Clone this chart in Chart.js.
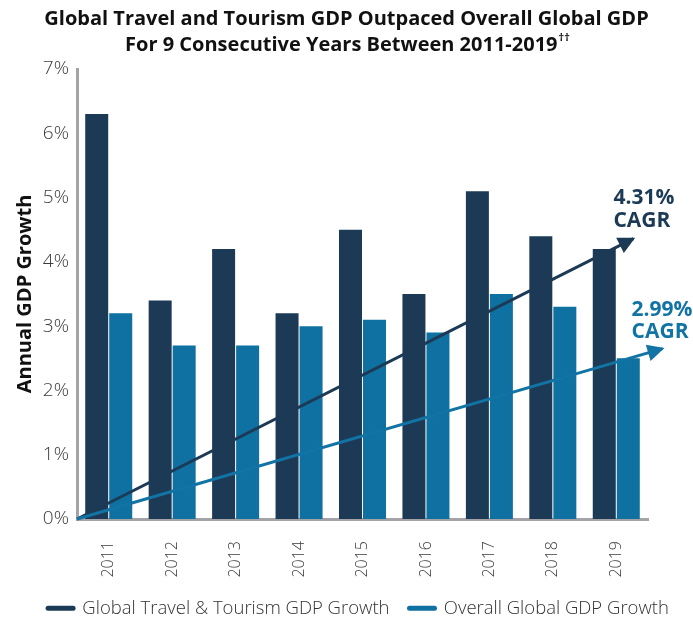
<!DOCTYPE html>
<html>
<head>
<meta charset="utf-8">
<script src="https://cdn.jsdelivr.net/npm/chart.js@4.4.1/dist/chart.umd.min.js"></script>
<style>
  html, body { margin: 0; padding: 0; background: #fff; }
  #wrap { width: 693px; height: 620px; }
</style>
</head>
<body>
<div id="wrap"><canvas id="gdp"></canvas></div>
<script>
const years = ['2011', '2012', '2013', '2014', '2015', '2016', '2017', '2018', '2019'];
const travelGrowth = [6.3, 3.4, 4.2, 3.2, 4.5, 3.5, 5.1, 4.4, 4.2];
const globalGrowth = [3.2, 2.7, 2.7, 3.0, 3.1, 2.9, 3.5, 3.3, 2.5];
const yTicks = [0, 1, 2, 3, 4, 5, 6, 7];
// CAGR trend arrows, x in category units (-0.5 is the left edge of the axis)
const travelTrend = [{x: -0.5, y: 0}, {x: 8.27, y: 4.36}];
const globalTrend = [{x: -0.5, y: 0}, {x: 8.73, y: 2.65}];
const cagrLabels = ['4.31%', '2.99%'];

const DARK = '#1c3a55';
const LIGHT = '#0f71a2';
const FONT = '"Open Sans", "Noto Sans", sans-serif';

const titleLines = [
    'Global Travel and Tourism GDP Outpaced Overall Global GDP',
    'For 9 Consecutive Years Between 2011-2019'
];

const trends = [
    {points: travelTrend, label: cagrLabels[0], color: DARK, dx: -20, y1: -41, y2: -18},
    {points: globalTrend, label: cagrLabels[1], color: '#1273a5', dx: -31, y1: -39, y2: -17},
];

const cagrPlugin = {
    id: 'cagr',
    afterLayout(chart) {
        // legend sits a little right of centre in the original
        chart.legend.left += 12;
        chart.legend.right += 12;
    },
    afterDatasetsDraw(chart) {
        const ctx = chart.ctx;
        const xs = chart.scales.x, ys = chart.scales.y;
        trends.forEach(tr => {
            const px = tr.points.map(p => ({x: xs.getPixelForValue(p.x), y: ys.getPixelForValue(p.y)}));
            const a = px[px.length - 2], b = px[px.length - 1];

            ctx.save();
            ctx.strokeStyle = tr.color;
            ctx.lineWidth = 3;
            ctx.beginPath();
            px.forEach((p, i) => i ? ctx.lineTo(p.x, p.y) : ctx.moveTo(p.x, p.y));
            ctx.stroke();

            // arrow head
            ctx.translate(b.x, b.y);
            ctx.rotate(Math.atan2(b.y - a.y, b.x - a.x));
            ctx.beginPath();
            ctx.moveTo(2, 0);
            ctx.lineTo(-15, -8.5);
            ctx.lineTo(-15, 8.5);
            ctx.closePath();
            ctx.fillStyle = tr.color;
            ctx.fill();
            ctx.restore();

            ctx.save();
            ctx.fillStyle = tr.color;
            ctx.font = 'bold 21px ' + FONT;
            ctx.textBaseline = 'middle';
            ctx.textAlign = 'left';
            ctx.fillText(tr.label, b.x + tr.dx, b.y + tr.y1);
            ctx.fillText('CAGR', b.x + tr.dx, b.y + tr.y2);
            ctx.restore();
        });
    },
    afterDraw(chart) {
        // superscript daggers after the second title line
        const t = chart.titleBlock;
        const opts = t.options;
        const ctx = chart.ctx;
        const fs = opts.font.size;
        const lh = fs * opts.font.lineHeight;
        ctx.save();
        ctx.font = 'bold ' + fs + 'px ' + FONT;
        const full = ctx.measureText(titleLines[1] + '  ').width;
        const plain = ctx.measureText(titleLines[1]).width;
        const cx = (t.left + t.right) / 2;
        const y = t.top + opts.padding.top + lh * 1.5;
        ctx.font = 'bold 11px ' + FONT;
        ctx.fillStyle = '#111';
        ctx.textBaseline = 'middle';
        ctx.textAlign = 'left';
        ctx.fillText('\u2020\u2020', cx - full / 2 + plain + 1, y - 7);
        ctx.restore();
    }
};

const ctx = document.getElementById('gdp').getContext('2d');
const gdpChart = new Chart(ctx, {
    type: 'bar',
    data: {
        labels: years,
        datasets: [
            {
                label: 'Global Travel & Tourism GDP Growth',
                data: travelGrowth,
                backgroundColor: DARK,
                categoryPercentage: 0.757,
                barPercentage: 0.958,
            },
            {
                label: 'Overall Global GDP Growth',
                data: globalGrowth,
                backgroundColor: LIGHT,
                categoryPercentage: 0.757,
                barPercentage: 0.958,
            }
        ]
    },
    options: {
        responsive: true,
        maintainAspectRatio: false,
        animation: false,
        layout: {
            padding: 0
        },
        scales: {
            x: {
                offset: true,
                grid: {display: false, drawTicks: false, offset: true},
                border: {display: true, color: '#a3a3a8', width: 3},
                ticks: {
                    minRotation: 90,
                    maxRotation: 90,
                    padding: 22,
                    color: '#3a3a3a',
                    font: {family: FONT, size: 16, weight: 300},
                },
                afterFit: s => { s.height = 60; },
            },
            y: {
                min: yTicks[0],
                max: yTicks[yTicks.length - 1],
                afterBuildTicks: axis => { axis.ticks = yTicks.map(v => ({value: v})); },
                grid: {display: false, drawTicks: false},
                border: {display: true, color: '#a3a3a8', width: 3},
                ticks: {
                    padding: 8,
                    color: '#3a3a3a',
                    font: {family: FONT, size: 19, weight: 300},
                    callback: v => v + '%',
                },
                title: {
                    display: true,
                    text: 'Annual GDP Growth',
                    color: '#111',
                    font: {family: FONT, size: 20, weight: 'bold'},
                    padding: {top: 13, bottom: 0},
                },
                afterFit: s => { s.width = 77; },
            },
            yRight: {
                position: 'right',
                display: true,
                grid: {display: false, drawTicks: false},
                border: {display: false},
                ticks: {display: false},
                afterFit: s => { s.width = 45; },
            },
        },
        plugins: {
            title: {
                display: true,
                text: [titleLines[0], titleLines[1] + '  '],
                color: '#111',
                font: {family: FONT, size: 20, weight: 'bold', lineHeight: 1.3},
                padding: {top: 6, bottom: 11},
            },
            legend: {
                position: 'bottom',
                maxHeight: 41,
                labels: {
                    usePointStyle: true,
                    pointStyleWidth: 25,
                    padding: 20,
                    color: '#333',
                    font: {family: FONT, size: 18.5, weight: 300},
                    generateLabels: chart => chart.data.datasets.map((ds, i) => ({
                        text: ds.label,
                        fillStyle: ds.backgroundColor,
                        strokeStyle: ds.backgroundColor,
                        lineWidth: 5,
                        lineCap: 'round',
                        pointStyle: 'line',
                        hidden: false,
                        datasetIndex: i,
                        fontColor: '#333',
                    })),
                },
            },
            tooltip: {enabled: false},
        },
    },
    plugins: [cagrPlugin],
});
</script>
</body>
</html>
